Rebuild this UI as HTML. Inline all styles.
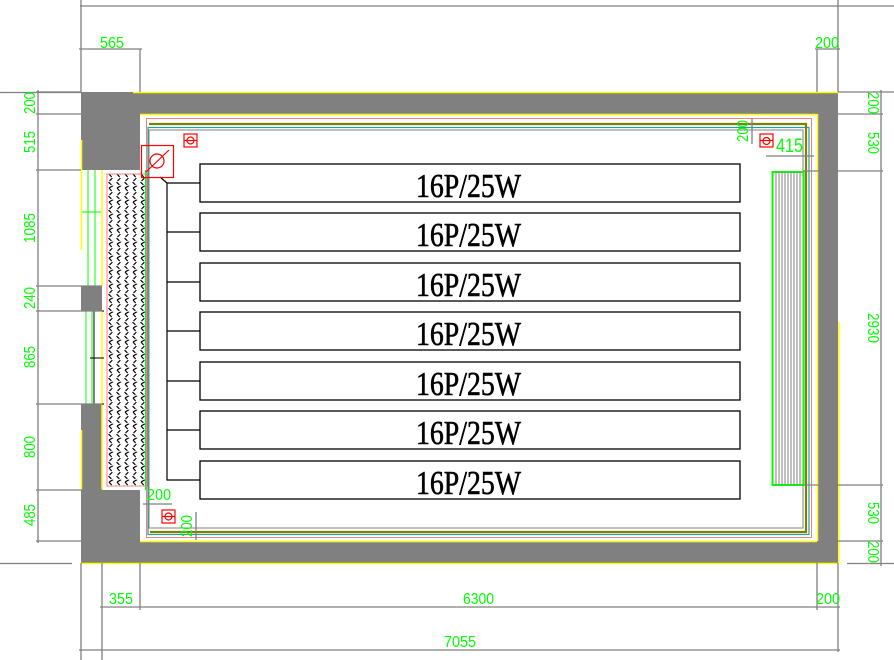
<!DOCTYPE html>
<html><head><meta charset="utf-8"><style>
html,body{margin:0;padding:0;background:#fff;width:894px;height:660px;overflow:hidden}
svg{display:block}
.g{fill:#00ff00;font-family:"Liberation Sans",sans-serif;font-size:16px}
.d{stroke:#808080;stroke-width:1.3;fill:none}
.t{font-family:"Liberation Serif",serif;font-size:34px;fill:#000}
</style></head><body>
<svg width="894" height="660" viewBox="0 0 894 660" xmlns="http://www.w3.org/2000/svg">
<defs>
<pattern id="hat" x="107" y="174" width="8" height="14" patternUnits="userSpaceOnUse">
<path d="M2 0 L5.5 4 L1.5 8 L5.5 12 L2 14" stroke="#000" stroke-width="1.2" fill="none" stroke-dasharray="4 1.5"/>
</pattern>
</defs>
<path d="M81 92 H838 V563 H81 V404 H102 V490 H140 V541 H817 V114 H140 V170 H81 Z" fill="#808080"/>
<rect x="81" y="286" width="21" height="25" fill="#808080"/>
<path d="M133 92.5 H838 M140 114.5 H817 M140 541.5 H817 M81 563.5 H838 M817.5 114 V541 M839 322 V563 M81.5 140 V250 M81.5 430 V490 M102 170 V286 M102 311 V404 M102 490 V404" stroke="#ffff00" stroke-width="1.5" fill="none"/>
<path d="M88 170 V286 M95 170 V286 M82 212 H101 M86 311 V404 M92 311 V404" stroke="#00ff00" stroke-width="1"/>
<path d="M94 311 V404 M95 311 H104 M95 404 H104 M90 358 H104" stroke="#000" stroke-width="1"/>
<rect x="107" y="174" width="40" height="312" fill="url(#hat)" stroke="#f08080" stroke-width="1"/>
<path d="M146 170 V490" stroke="#00ff00" stroke-width="2"/>
<rect x="146.5" y="118.5" width="665" height="419" fill="none" stroke="#f08080" stroke-width="1"/>
<rect x="148" y="127.5" width="661" height="407" fill="none" stroke="#20a0a0" stroke-width="1.2"/>
<path d="M149 124 H806 V532 H150" stroke="#808000" stroke-width="2.2" fill="none"/>
<rect x="149" y="130" width="654" height="398" fill="none" stroke="#808080" stroke-width="1"/>
<rect x="772.5" y="172" width="31" height="313" fill="none" stroke="#00ff00" stroke-width="2"/>
<path d="M776 172V485M779 172V485M782 172V485M785 172V485M788 172V485M791 172V485M794 172V485M797 172V485M800 172V485" stroke="#808080" stroke-width="1"/>
<g stroke="#000" stroke-width="1.3" fill="#fff">
<rect x="200" y="164" width="540" height="38"/>
<rect x="200" y="213" width="540" height="38"/>
<rect x="200" y="263" width="540" height="38"/>
<rect x="200" y="312" width="540" height="38"/>
<rect x="200" y="362" width="540" height="38"/>
<rect x="200" y="411" width="540" height="38"/>
<rect x="200" y="461" width="540" height="38"/>
</g>
<path d="M160 177 L167 183 H200 M167 183 V480 H200 M167 232 H200 M167 282 H200 M167 331 H200 M167 381 H200 M167 430 H200" stroke="#000" stroke-width="1.2" fill="none"/>
<g class="t" stroke="#000" stroke-width="0.6">
<text x="416" y="197" textLength="105" lengthAdjust="spacingAndGlyphs">16P/25W</text>
<text x="416" y="246" textLength="105" lengthAdjust="spacingAndGlyphs">16P/25W</text>
<text x="416" y="296" textLength="105" lengthAdjust="spacingAndGlyphs">16P/25W</text>
<text x="416" y="345" textLength="105" lengthAdjust="spacingAndGlyphs">16P/25W</text>
<text x="416" y="395" textLength="105" lengthAdjust="spacingAndGlyphs">16P/25W</text>
<text x="416" y="444" textLength="105" lengthAdjust="spacingAndGlyphs">16P/25W</text>
<text x="416" y="494" textLength="105" lengthAdjust="spacingAndGlyphs">16P/25W</text>
</g>
<g stroke="#ff0000" fill="none" stroke-width="1.2">
<rect x="141.5" y="145.5" width="32" height="32"/>
<circle cx="157" cy="161" r="7"/>
<path d="M146 172 L169 150"/>
<rect x="184" y="134" width="13" height="13"/><circle cx="190.5" cy="140.5" r="3.5"/><path d="M184 140.5H197"/>
<rect x="760" y="134" width="13" height="13"/><circle cx="766.5" cy="141" r="3.5"/><path d="M760 140.5H773"/>
<rect x="162" y="510" width="13" height="13"/><circle cx="168.5" cy="516.5" r="3.5"/><path d="M162 516.5H175"/>
</g>
<g class="d">
<path d="M80 6 H894 M81 0 V92 M79 49 H142 M140 49 V92 M815 49 H840 M817 49 V92 M838 0 V92"/>
<path d="M0 92.5 H81 M38 90 V543 M36 92 H81 M36 114 H81 M36 170 H81 M36 286 H102 M36 311 H102 M36 404 H102 M36 490 H102 M36 541 H81 M0 563.5 H72"/>
<path d="M838 92 H894 M881 90 V566 M838 114 H883 M803 171 H883 M803 485 H883 M838 541 H883 M847 563.5 H894"/>
<path d="M81 563 V660 M102 563 V660 M140 563 V610 M817 563 V610 M838 563 V652 M100 607 H840 M79 650 H840"/>
<path d="M752 118 V144 M766 156 H814 M143 504 H172 M196 512 V540"/>
</g>
<g class="g">
<text x="100" y="48" textLength="24" lengthAdjust="spacingAndGlyphs">565</text>
<text x="815" y="48" textLength="24" lengthAdjust="spacingAndGlyphs">200</text>
<text x="109" y="604" textLength="24" lengthAdjust="spacingAndGlyphs">355</text>
<text x="463" y="604" textLength="31" lengthAdjust="spacingAndGlyphs">6300</text>
<text x="816" y="604" textLength="24" lengthAdjust="spacingAndGlyphs">200</text>
<text x="444" y="647" textLength="32" lengthAdjust="spacingAndGlyphs">7055</text>
<text x="776" y="152" font-size="19" textLength="27" lengthAdjust="spacingAndGlyphs">415</text>
<text x="147" y="500" textLength="24" lengthAdjust="spacingAndGlyphs">200</text>
<g font-size="16">
<text transform="translate(35,103) rotate(-90)" text-anchor="middle" textLength="22" lengthAdjust="spacingAndGlyphs">200</text>
<text transform="translate(35,142) rotate(-90)" text-anchor="middle" textLength="22" lengthAdjust="spacingAndGlyphs">515</text>
<text transform="translate(35,228) rotate(-90)" text-anchor="middle" textLength="30" lengthAdjust="spacingAndGlyphs">1085</text>
<text transform="translate(35,298) rotate(-90)" text-anchor="middle" textLength="22" lengthAdjust="spacingAndGlyphs">240</text>
<text transform="translate(35,357) rotate(-90)" text-anchor="middle" textLength="22" lengthAdjust="spacingAndGlyphs">865</text>
<text transform="translate(35,447) rotate(-90)" text-anchor="middle" textLength="22" lengthAdjust="spacingAndGlyphs">800</text>
<text transform="translate(35,515) rotate(-90)" text-anchor="middle" textLength="22" lengthAdjust="spacingAndGlyphs">485</text>
<text transform="translate(748,131) rotate(-90)" text-anchor="middle" textLength="22" lengthAdjust="spacingAndGlyphs">200</text>
<text transform="translate(192,526) rotate(-90)" text-anchor="middle" textLength="22" lengthAdjust="spacingAndGlyphs">200</text>
<text transform="translate(868,103) rotate(90)" text-anchor="middle" textLength="22" lengthAdjust="spacingAndGlyphs">200</text>
<text transform="translate(868,143) rotate(90)" text-anchor="middle" textLength="22" lengthAdjust="spacingAndGlyphs">530</text>
<text transform="translate(868,328) rotate(90)" text-anchor="middle" textLength="30" lengthAdjust="spacingAndGlyphs">2930</text>
<text transform="translate(868,513) rotate(90)" text-anchor="middle" textLength="22" lengthAdjust="spacingAndGlyphs">530</text>
<text transform="translate(868,552) rotate(90)" text-anchor="middle" textLength="22" lengthAdjust="spacingAndGlyphs">200</text>
</g>
</g>
</svg>
</body></html>
